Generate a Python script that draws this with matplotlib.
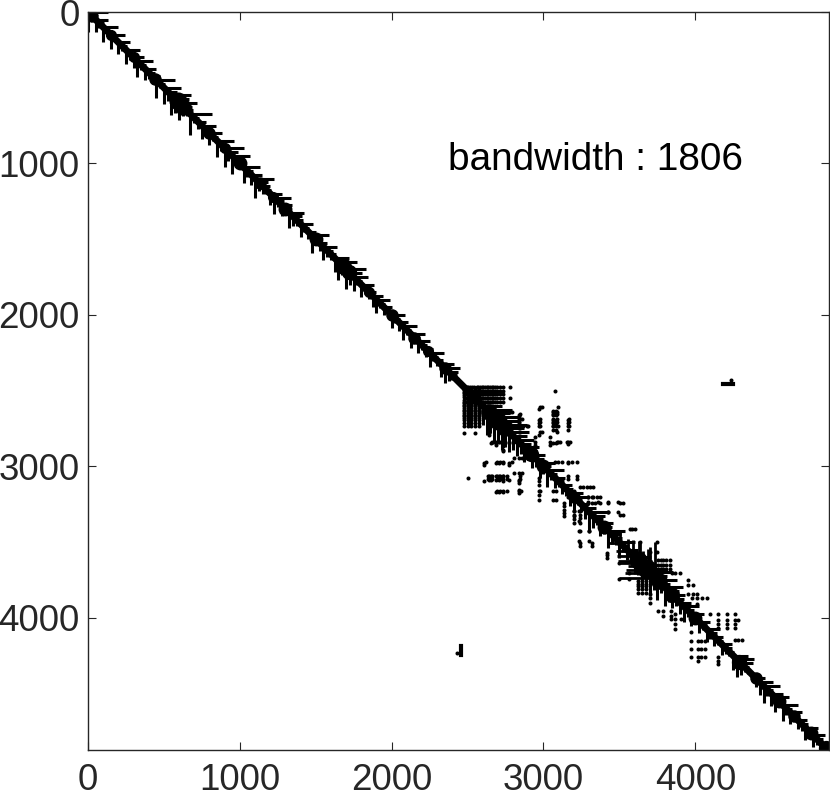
import matplotlib
matplotlib.use("Agg")
import matplotlib.pyplot as plt

plt.rcParams['font.family'] = ['Liberation Sans', 'DejaVu Sans']

N = 4881
BW_LABEL = "bandwidth : 1806"
tick_vals = [0, 1000, 2000, 3000, 4000]
BAND_STEP = 25

# rightward reach of the nonzeros of each band row (every BAND_STEP rows)
band_reach = [
    135, 40, 85, 30, 95, 35, 95, 20, 75, 30, 95, 40, 70, 105, 30, 75, 40, 50, 120, 30,
    110, 60, 130, 90, 115, 60, 40, 140, 30, 50, 90, 40, 80, 30, 110, 40, 125, 60, 120, 50,
    30, 105, 40, 70, 125, 60, 50, 30, 75, 110, 40, 70, 35, 100, 60, 40, 85, 30, 50, 115,
    30, 50, 90, 40, 35, 95, 120, 60, 130, 80, 95, 30, 85, 40, 45, 70, 90, 30, 50, 35,
    85, 30, 55, 90, 30, 95, 35, 75, 30, 50, 95, 30, 40, 85, 100, 60, 30, 20,
    10, 15, 20, 30, 60, 90, 130, 170, 130, 180, 150, 165, 120, 130, 95, 110, 70, 95, 60, 85, 55, 100,
    50, 110, 40, 70, 35, 60, 45, 85, 100, 30, 50, 70, 125, 80, 40, 85, 50, 115, 60, 45,
    105, 40, 70, 50, 110, 90, 140, 100, 155, 90, 130, 60, 120, 70, 85, 50, 75, 100, 45, 80,
    40, 75, 30, 85, 40, 60, 30, 70, 40, 30, 95, 115, 80, 30, 20, 25, 60, 85, 110, 40,
    80, 95, 30, 105, 40, 75, 30, 60, 45, 85, 30, 80, 40, 60, 30, 5,
]

# long columns reaching up from the diagonal (upper triangle)
long_cols = [3504, 3636, 3702, 3735, 3687, 3658, 3628, 3560, 3590]
long_reach = [70, 146, 167, 235, 140, 98, 135, 80, 105]

# thick knots of the diagonal band: position and diameter (points)
knot_pos = [18, 150, 300, 440, 590, 625, 800, 900, 1000, 1130, 1220, 1300, 1500, 1680, 1720,
            1850, 2000, 2150, 2240, 2350, 2640, 2700, 2750, 2920, 3000, 3200, 3400, 3620,
            3680, 3760, 3850, 4000, 4290, 4400, 4550, 4650, 4760, 4860]
knot_size = [10, 8, 8, 9, 13, 12, 9, 8, 10, 9, 8, 10, 10, 12, 11,
             8, 9, 9, 8, 9, 12, 13, 12, 11, 10, 9, 10, 13,
             14, 12, 11, 10, 11, 9, 10, 9, 10, 11]

# top-left dense block of the dissected part
block_rows = [2479, 2501, 2523, 2551, 2578]
block_cols = [2484, 2495, 2506, 2517, 2528, 2545, 2561, 2572, 2583, 2594, 2604, 2615, 2626,
              2637, 2648, 2659, 2670, 2681, 2692, 2714, 2736]

# scattered nonzeros of the upper triangle: row -> columns
sp_rows = [2479, 2501, 2551, 2611, 2639, 2654, 2687, 2709, 2736, 2775, 2808, 2837,
           2859, 2973, 3061, 3083, 3138, 3160, 3203, 3204, 3236, 3243, 3302, 3303,
           3320, 3417, 3500, 3566, 3621, 3650, 3676, 3702, 3753, 3786, 3841, 3869,
           3907, 3973, 4016, 4038, 4067, 4148, 2431]
sp_cols = [
    [2780], [3077], [2780], [2978, 2989, 3099], [2780, 2791, 3066, 3077, 3088],
    [2846, 3066, 3088], [2857, 2978, 3066, 3088, 3171], [2978, 3066, 3088, 3171],
    [2846, 2868, 2890, 2901, 2978, 3066, 3099, 3171], [2846, 2978, 2989, 3088],
    [2945, 3044], [2945, 3044, 3088, 3099, 3110, 3153, 3164, 3175], [2945, 3044],
    [3077, 3099, 3121, 3164, 3191, 3219], [3164, 3219], [3164, 3219],
    [3241, 3263, 3285, 3307, 3329], [3200], [3296, 3318, 3351],
    [3296, 3329, 3373], [3296, 3362, 3428, 3494], [3296, 3318, 3340, 3373, 3428, 3504, 3526],
    [3428, 3494], [3428], [3504, 3526], [3570, 3585, 3603], [3636, 3746], [3702, 3746],
    [3757, 3775, 3790, 3810, 3834], [3757, 3775, 3790, 3810, 3834], [3757, 3775, 3790, 3810, 3834],
    [3845, 3867, 3900], [3955], [3955, 3988], [3955, 3988, 4010],
    [3977, 4010, 4043, 4075], [4010], [4097, 4152, 4207, 4262],
    [4152, 4207, 4262, 4284], [4152, 4207, 4262], [4152, 4207, 4262],
    [4262, 4284, 4306], [4235],
]

# lower-left rows of the upper block's mirror partners (row, columns in the lower triangle)
low_rows = [2837, 2973, 3061, 3083, 3160]
low_cols = [
    [2660, 2690, 2715, 2740, 2775, 2820],
    [2622, 2692, 2714, 2736, 2791],
    [2637, 2660, 2692, 2714, 2736, 2758, 2846],
    [2637, 2660, 2692, 2714, 2736, 2758, 2846],
    [2692, 2714, 2736, 2758, 2853, 2978],
]

# isolated far off-diagonal cluster
iso_row = 2457
iso_start = 4183
iso_end = 4249

fig = plt.figure(figsize=(8.30, 7.98), dpi=100)
ax = fig.add_axes([88 / 830, 1 - 750 / 798, 741 / 830, 738 / 798])

xs, ys = [], []
for r in block_rows:
    for c in block_cols:
        xs.append(c); ys.append(r)
for r, cs in zip(sp_rows, sp_cols):
    for c in cs:
        xs.append(c); ys.append(r)
for r, cs in zip(low_rows, low_cols):
    for c in cs:
        xs.append(c); ys.append(r)
ax.plot(xs + ys, ys + xs, ls='none', marker='o', ms=2.9, mew=0, color='black')

pos = [i * BAND_STEP for i in range(len(band_reach))]
ax.plot(pos, pos, color='black', lw=5.0, solid_capstyle='round')
ends = [p + u for p, u in zip(pos, band_reach)]
ax.hlines(pos, pos, ends, color='black', lw=2.2)
ax.vlines(pos, pos, ends, color='black', lw=2.2)

long_start = [c - u for c, u in zip(long_cols, long_reach)]
ax.vlines(long_cols, long_start, long_cols, color='black', lw=2.0)
ax.hlines(long_cols, long_start, long_cols, color='black', lw=2.0)

for p, s in zip(knot_pos, knot_size):
    ax.plot([p], [p], marker='o', ms=s, mew=0, color='black')
ax.plot([iso_start, iso_end], [iso_row, iso_row], color='black', lw=3)
ax.plot([iso_row, iso_row], [iso_start, iso_end], color='black', lw=3)

ax.set_xlim(0, N)
ax.set_ylim(N - 8, 0)
ax.set_xticks(tick_vals)
ax.set_yticks(tick_vals)
ax.tick_params(axis='both', which='both', direction='in', length=5.5, width=0.8,
               color='#262626', labelcolor='#262626', labelsize=26.5,
               top=True, right=True)
ax.tick_params(axis='x', pad=9.5)
ax.tick_params(axis='y', pad=6)
for s in ax.spines.values():
    s.set_color('#262626')
    s.set_linewidth(1.0)

ax.text(2370, 980, BW_LABEL, fontsize=27.9, color='black', ha='left', va='center')

fig.savefig('out.png', dpi=100)
